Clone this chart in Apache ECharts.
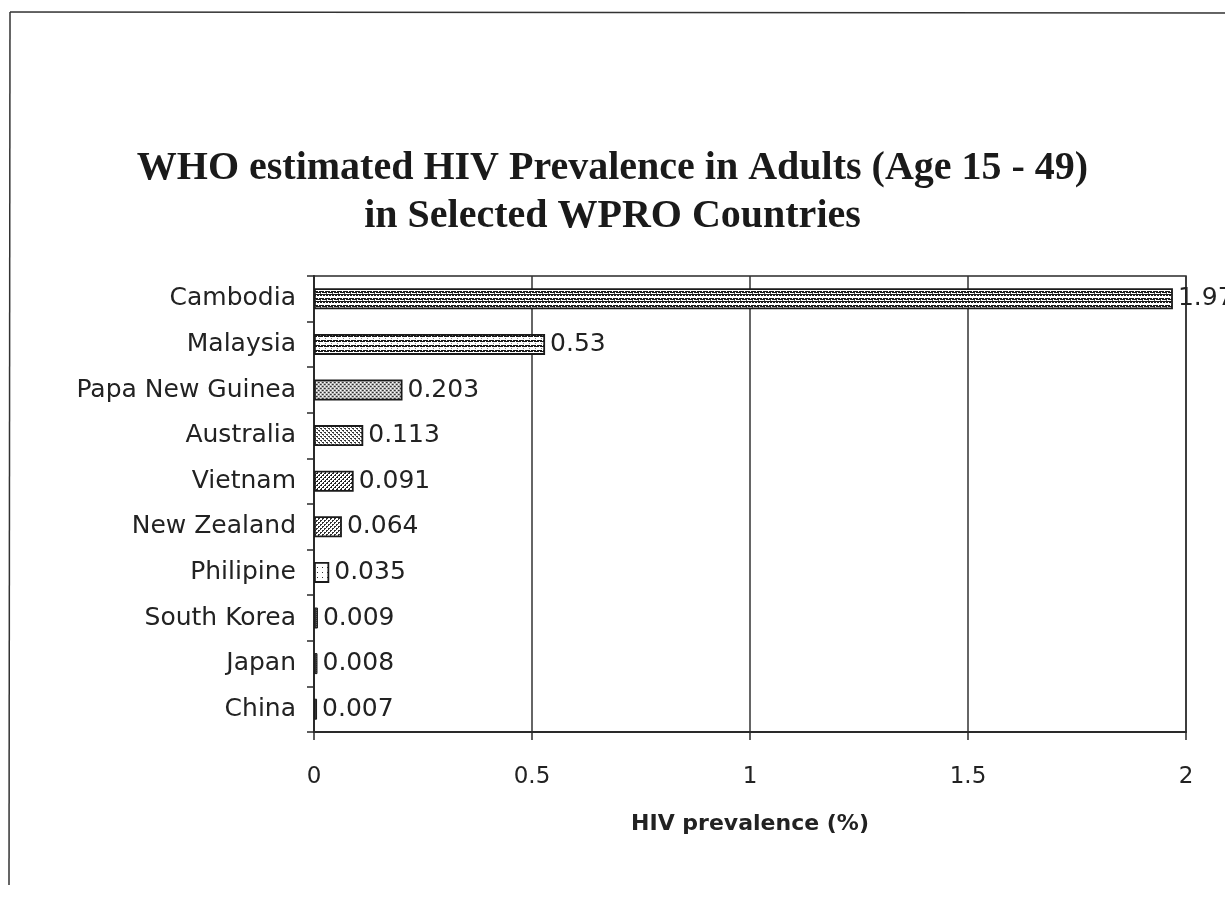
<!DOCTYPE html>
<html>
<head>
<meta charset="utf-8">
<script src="https://cdn.jsdelivr.net/npm/echarts@6/dist/echarts.min.js"></script>
<style>
html,body{margin:0;padding:0;background:#fff;}
#chart{width:1225px;height:897px;}
</style>
</head>
<body>
<div id="chart"></div>
<script>
const categories = ["Cambodia","Malaysia","Papa New Guinea","Australia","Vietnam","New Zealand","Philipine","South Korea","Japan","China"];
const values = [1.97, 0.53, 0.203, 0.113, 0.091, 0.064, 0.035, 0.009, 0.008, 0.007];
const xTicks = [0, 0.5, 1, 1.5, 2];
const titleText = "WHO estimated HIV Prevalence in Adults (Age 15 - 49)\nin Selected WPRO Countries";
const xAxisTitle = "HIV prevalence (%)";

function makePattern(kind) {
  const c = document.createElement('canvas');
  const ctx = c.getContext('2d');
  function px(x, y, col) { ctx.fillStyle = col; ctx.fillRect(x, y, 1, 1); }
  if (kind === 0) { // Cambodia: stripes with dots
    c.width = 6; c.height = 7;
    ctx.fillStyle = '#fff'; ctx.fillRect(0,0,6,7);
    ctx.fillStyle = '#1a1a1a'; ctx.fillRect(0,0,6,2); ctx.fillRect(0,4,6,2);
    px(1,1,'#fff'); px(4,1,'#fff'); px(0,4,'#fff'); px(3,5,'#fff');
    px(2,6,'#666');
  } else if (kind === 1) { // Malaysia: horizontal lines
    c.width = 6; c.height = 5;
    ctx.fillStyle = '#fff'; ctx.fillRect(0,0,6,5);
    ctx.fillStyle = '#1a1a1a'; ctx.fillRect(0,0,6,2);
    px(2,0,'#fff'); px(5,1,'#fff'); px(1,3,'#888');
  } else if (kind === 2) { // PNG: dense dots
    c.width = 4; c.height = 4;
    ctx.fillStyle = '#bbb'; ctx.fillRect(0,0,4,4);
    px(0,0,'#333'); px(2,2,'#333'); px(1,0,'#666'); px(3,2,'#666');
    px(2,0,'#fff'); px(0,2,'#fff');
  } else if (kind === 3) { // Australia: dots grid
    c.width = 4; c.height = 4;
    ctx.fillStyle = '#fff'; ctx.fillRect(0,0,4,4);
    ctx.fillStyle = '#333'; ctx.fillRect(0,0,2,1); ctx.fillRect(2,2,2,1);
    px(1,1,'#777'); px(3,3,'#777');
  } else if (kind === 4) { // Vietnam: darker dots
    c.width = 4; c.height = 4;
    ctx.fillStyle = '#fff'; ctx.fillRect(0,0,4,4);
    ctx.fillStyle = '#222'; ctx.fillRect(0,0,2,2); ctx.fillRect(2,2,2,2);
    px(0,0,'#fff'); px(2,2,'#fff');
  } else if (kind === 5) { // NZ
    c.width = 4; c.height = 4;
    ctx.fillStyle = '#fff'; ctx.fillRect(0,0,4,4);
    ctx.fillStyle = '#333'; ctx.fillRect(0,0,2,1); ctx.fillRect(2,2,2,1);
    px(0,1,'#333'); px(2,3,'#333');
  } else if (kind === 6) { // Philippines: sparse dots
    c.width = 5; c.height = 5;
    ctx.fillStyle = '#fff'; ctx.fillRect(0,0,5,5);
    px(2,2,'#333');
  } else { // very small bars: dark
    c.width = 2; c.height = 2;
    ctx.fillStyle = '#333'; ctx.fillRect(0,0,2,2);
    px(0,0,'#666');
  }
  return c;
}

const barData = values.map((v, i) => ({
  value: v,
  itemStyle: {
    color: { image: makePattern(Math.min(i, 7)), repeat: 'repeat' },
    borderColor: '#1a1a1a',
    borderWidth: i >= 7 ? 1 : 1.8
  }
}));

const labelFont = 'DejaVu Sans';

const chart = echarts.init(document.getElementById('chart'), null, { renderer: 'canvas' });
chart.setOption({
  backgroundColor: '#fff',
  animation: false,
  title: {
    text: titleText,
    left: 'center',
    top: 140,
    textStyle: {
      fontFamily: 'Liberation Serif',
      fontWeight: 'bold',
      fontSize: 40,
      lineHeight: 48,
      color: '#1a1a1a'
    }
  },
  grid: {
    left: 314, right: 39, top: 276, bottom: 165,
    show: true, borderColor: '#2a2a2a', borderWidth: 1.5
  },
  xAxis: {
    type: 'value',
    min: 0, max: 2, interval: 0.5,
    axisLine: { show: true, lineStyle: { color: '#2a2a2a', width: 2 } },
    axisTick: { show: true, length: 8, lineStyle: { color: '#2a2a2a', width: 1.5 } },
    axisLabel: {
      margin: 34,
      fontFamily: labelFont, fontSize: 23, color: '#222',
      formatter: function (v) {
        const t = xTicks.find(x => Math.abs(x - v) < 1e-9);
        return t === undefined ? '' : String(t);
      }
    },
    splitLine: { show: true, lineStyle: { color: '#333', width: 1.5 } },
    name: xAxisTitle,
    nameLocation: 'middle',
    nameGap: 81,
    nameTextStyle: { fontFamily: labelFont, fontWeight: 'bold', fontSize: 22, color: '#222' }
  },
  yAxis: {
    type: 'category',
    data: categories,
    inverse: true,
    axisLine: { show: true, lineStyle: { color: '#2a2a2a', width: 2 } },
    axisTick: { show: true, length: 7, alignWithLabel: false, lineStyle: { color: '#2a2a2a', width: 1.5 } },
    axisLabel: { margin: 18, fontFamily: labelFont, fontSize: 25, color: '#222' }
  },
  series: [{
    type: 'bar',
    data: barData,
    barWidth: 21,
    label: {
      show: true,
      position: 'right',
      distance: 5,
      fontFamily: labelFont,
      fontSize: 25,
      color: '#222'
    }
  }],
  graphic: [
    { type: 'line', shape: { x1: 10, y1: 12, x2: 1225, y2: 13 }, style: { stroke: '#333', lineWidth: 1.5 } },
    { type: 'line', shape: { x1: 10, y1: 12, x2: 9, y2: 885 }, style: { stroke: '#333', lineWidth: 1.5 } }
  ]
});
</script>
</body>
</html>
